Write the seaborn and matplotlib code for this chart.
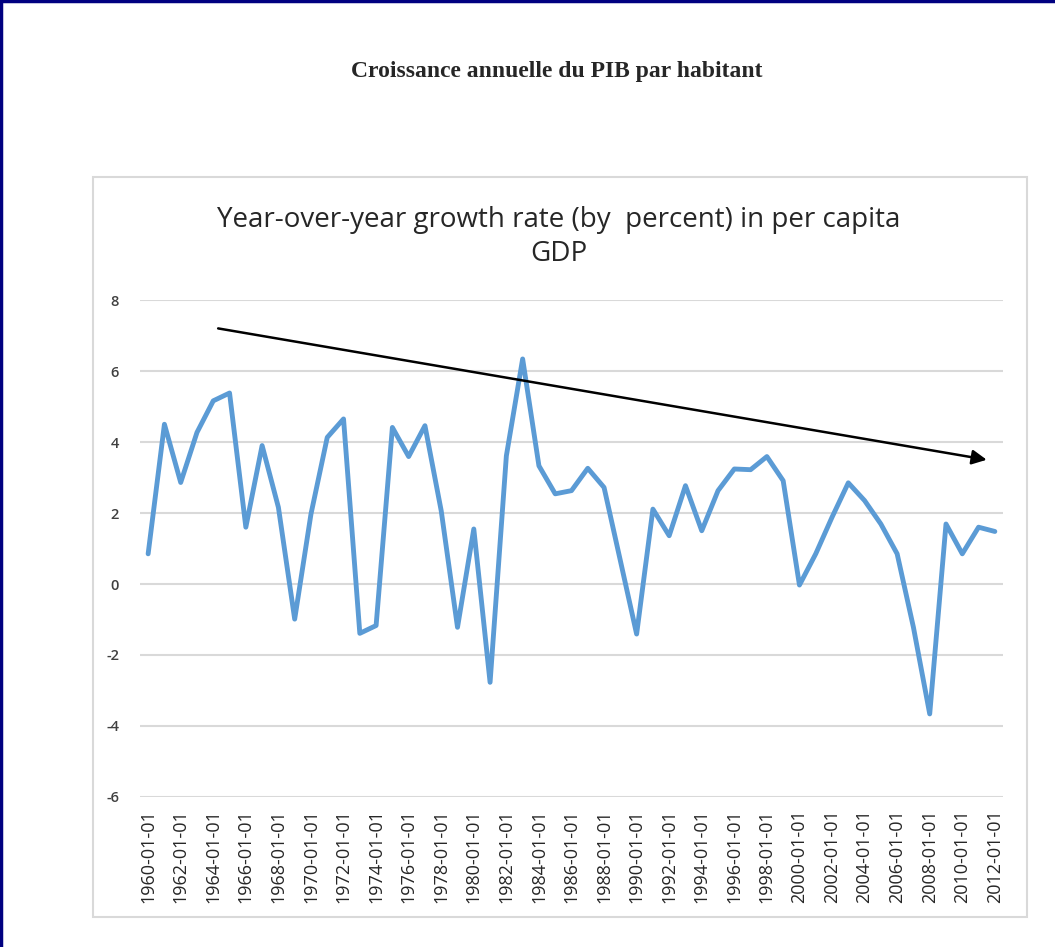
import numpy as np
import pandas as pd
import matplotlib
matplotlib.use('Agg')
import matplotlib.pyplot as plt
import seaborn as sns
from matplotlib.patches import Rectangle
from matplotlib.lines import Line2D

# données
years = list(range(1960, 2013))
growth = [0.85, 4.50, 2.86, 4.27, 5.16, 5.38, 1.60, 3.90, 2.16, -0.99,
          1.97, 4.13, 4.65, -1.39, -1.17, 4.41, 3.59, 4.46, 2.06, -1.22,
          1.55, -2.77, 3.61, 6.34, 3.33, 2.54, 2.63, 3.26, 2.72, 0.66,
          -1.41, 2.11, 1.36, 2.77, 1.50, 2.63, 3.24, 3.22, 3.59, 2.91,
          -0.03, 0.85, 1.88, 2.85, 2.35, 1.69, 0.85, -1.22, -3.66, 1.69,
          0.85, 1.60, 1.48]
tick_years = list(range(1960, 2013, 2))
tick_labels = [f'{y}-01-01' for y in tick_years]
y_ticks = [-6, -4, -2, 0, 2, 4, 6, 8]

# flèche de tendance (début / fin)
arrow_start = (1964.3, 7.2)
arrow_end = (2011.5, 3.5)

main_title = 'Croissance annuelle du PIB par habitant'
chart_title = 'Year-over-year growth rate (by  percent) in per capita\nGDP'

df = pd.DataFrame({'year': years, 'growth': growth})

sns.set_theme(style='white')
plt.rcParams['font.family'] = ['Open Sans', 'DejaVu Sans']

fig = plt.figure(figsize=(10.55, 9.47), dpi=100)
ax = fig.add_axes([0.1327, 0.1584, 0.818, 0.5248])

sns.lineplot(data=df, x='year', y='growth', ax=ax, color='#5b9bd5', linewidth=3.5)

ax.set_xlim(1959.5, 2012.5)
ax.set_ylim(-6, 8)
ax.set_yticks(y_ticks)
ax.set_yticklabels([str(v) for v in y_ticks], fontsize=10.5, color='#404040',
                   fontweight='semibold')
ax.set_xticks(tick_years)
ax.set_xticklabels(tick_labels, rotation=90, fontsize=13, color='#262626')
ax.tick_params(axis='y', length=0, pad=15)
ax.tick_params(axis='x', length=0, pad=9)
ax.set_xlabel('')
ax.set_ylabel('')
ax.grid(axis='y', color='#d9d9d9', linewidth=1.5)
ax.set_axisbelow(True)
for s in ax.spines.values():
    s.set_visible(False)

ax.annotate('', xy=arrow_end, xytext=arrow_start,
            arrowprops=dict(arrowstyle='-|>', color='black', lw=1.8,
                            mutation_scale=22, shrinkA=0, shrinkB=0))

# titres
fig.text(0.528, 1 - 72 / 947, main_title, ha='center', va='center',
         fontsize=17, fontweight='bold', family=['Liberation Serif', 'DejaVu Serif'])
fig.text(0.530, 1 - 237 / 947, chart_title, ha='center', va='center',
         fontsize=20, color='#262626', linespacing=1.3)

# cadre du graphique
fig.patches.append(Rectangle((93 / 1055, 1 - 917 / 947), (1027 - 93) / 1055, (917 - 177) / 947,
                             transform=fig.transFigure, fill=False,
                             edgecolor='#d9d9d9', linewidth=1.5))
# bordure bleue (haut et gauche)
fig.lines.append(Line2D([0, 1], [0.999, 0.999], transform=fig.transFigure,
                        color='#000080', linewidth=2.5))
fig.lines.append(Line2D([0.001, 0.001], [0, 1], transform=fig.transFigure,
                        color='#000080', linewidth=2.5))

fig.savefig('out.png', dpi=100)
